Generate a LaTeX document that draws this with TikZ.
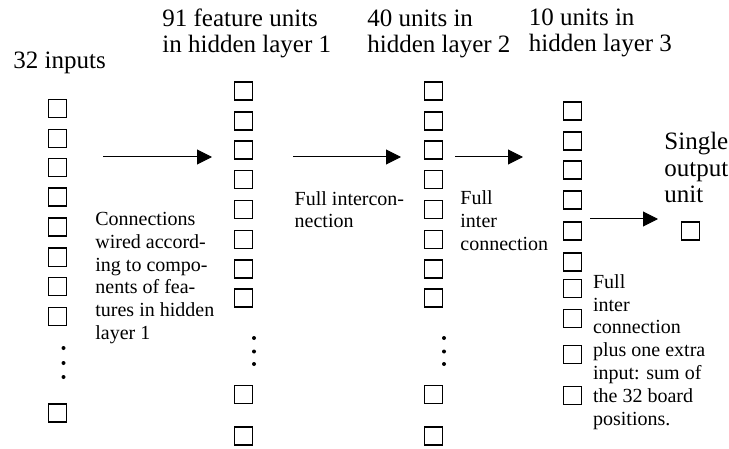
\documentclass[tikz,border=0pt]{standalone}
\usepackage{fontspec}
\setmainfont{Liberation Serif}
\usetikzlibrary{arrows.meta}
\begin{document}
\begin{tikzpicture}[x=0.5pt,y=-0.5pt,
  unit/.style={draw, line width=0.7pt, minimum size=9pt, inner sep=0pt},
  dotmark/.style={fill, circle, inner sep=0pt, minimum size=2pt},
  head/.style={font=\fontsize{12.5}{13.25}\selectfont, align=left, anchor=base west, inner sep=0pt},
  note/.style={font=\fontsize{10}{11.4}\selectfont, align=left, anchor=base west, inner sep=0pt},
  conn/.style={line width=0.5pt, -{Triangle[length=7.5pt,width=7.5pt]}}
]
\useasboundingbox (0,0) rectangle (729,449);

% headers (anchor = baseline of the last line)
\node[head] (h0) at (13,68.3) {32 inputs};
\node[head] (h1) at (162,53) {91 feature units\\in hidden layer 1};
\node[head] (h2) at (367,53) {40 units in\\hidden layer 2};
\node[head] (h3) at (528.5,52) {10 units in\\hidden layer 3};
\node[head] (h4) at (664,203) {Single\\output\\unit};

% column 1: inputs
\foreach \yy [count=\i] in {108.8,138.8,167.8,197.2,227.2,257.2,286.2,316.2}
  \node[unit] (in\i) at (57.7,\yy) {};
\foreach \yy [count=\i] in {348,363,377}
  \node[dotmark] (ind\i) at (63.5,\yy) {};
\node[unit] (inlast) at (57.7,412.8) {};

% column 2: hidden layer 1
\foreach \yy [count=\i] in {91.2,121.2,150.2,179.5,209.5,239.5,268.8,297.8}
  \node[unit] (ha\i) at (243.5,\yy) {};
\foreach \yy [count=\i] in {338,351.5,364}
  \node[dotmark] (had\i) at (254,\yy) {};
\node[unit] (halasta) at (243.5,394.5) {};
\node[unit] (halastb) at (243.5,436) {};

% column 3: hidden layer 2
\foreach \yy [count=\i] in {91.2,121.2,150.2,179.5,209.5,239.5,268.8,297.8}
  \node[unit] (hb\i) at (433.5,\yy) {};
\foreach \yy [count=\i] in {338,351.5,364}
  \node[dotmark] (hbd\i) at (444,\yy) {};
\node[unit] (hblasta) at (433.5,394.5) {};
\node[unit] (hblastb) at (433.5,436) {};

% column 4: hidden layer 3
\foreach \yy [count=\i] in {111,141,170,200,231,262,288.6,318.6,354.3,395.3}
  \node[unit] (hc\i) at (572.5,\yy) {};

% output unit
\node[unit] (out) at (690.5,231) {};

% arrows
\coordinate (a1s) at (103,157);
\coordinate (a1e) at (212,157);
\coordinate (a2s) at (293,157);
\coordinate (a2e) at (401,157);
\coordinate (a3s) at (455,157);
\coordinate (a3e) at (523,157);
\coordinate (a4s) at (590,219);
\coordinate (a4e) at (658,219);
\draw[conn] (a1s) -- (a1e);
\draw[conn] (a2s) -- (a2e);
\draw[conn] (a3s) -- (a3e);
\draw[conn] (a4s) -- (a4e);

% annotations (anchor = baseline of the last line)
\node[note] (n1) at (95,339.5) {Connections\\wired accord-\\ing to compo-\\nents of fea-\\tures in hidden\\layer 1};
\node[note] (n2) at (294.3,227.8) {Full intercon-\\nection};
\node[note] (n3) at (460,250.6) {Full\\inter\\connection};
\node[note] (n4) at (592.7,425) {Full\\inter\\connection\\plus one extra\\input: sum of\\the 32 board\\positions.};
\end{tikzpicture}
\end{document}
